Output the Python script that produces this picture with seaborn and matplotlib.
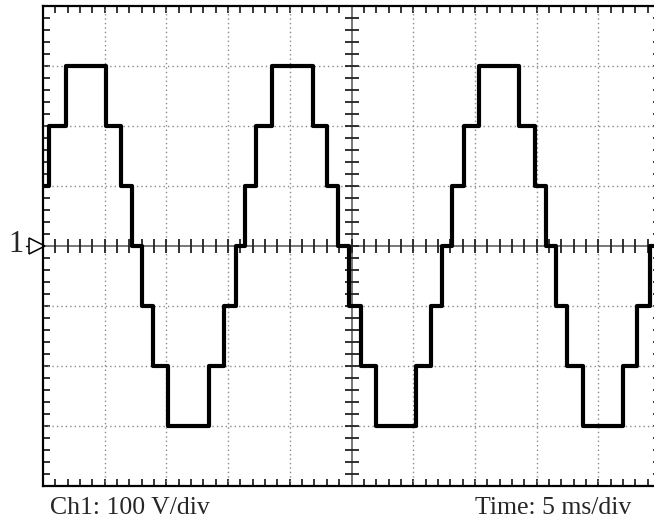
import numpy as np
import pandas as pd
import matplotlib
matplotlib.use("Agg")
import matplotlib.pyplot as plt
import seaborn as sns

# step edges (ms) and the level (V) held from each edge on
edge_ms = [0.0, 0.51, 1.84, 5.11, 6.30, 7.24, 8.05, 8.89, 10.11, 13.48,
           14.67, 15.64, 16.37, 17.26, 18.53, 21.86, 23.04, 23.93, 24.82,
           25.75, 26.96, 30.23, 31.42, 32.33, 33.18, 34.12, 35.33, 38.60,
           39.87, 40.76, 41.57, 42.49, 43.74, 46.98, 48.16, 49.19, 50.0]
level_v = [100, 200, 300, 200, 100, 0, -100, -200, -300, -200,
           -100, 0, 100, 200, 300, 200, 100, 0, -100,
           -200, -300, -200, -100, 0, 100, 200, 300, 200,
           100, 0, -100, -200, -300, -200, -100, 0, 0]

volts_per_div = 100
ms_per_div = 5

df = pd.DataFrame({"t": edge_ms, "v": level_v})

sns.set_style("white")
plt.rcParams['font.family'] = ['Liberation Serif', 'DejaVu Serif']

fig = plt.figure(figsize=(6.54, 5.2), dpi=100)
ax = fig.add_axes([43 / 654, 34 / 520, 617 / 654, 480 / 520])

# dotted division grid
for xv in np.arange(ms_per_div, 50, ms_per_div):
    if xv != 25:
        ax.axvline(xv, color="#8a8a8a", lw=1, ls=(0, (1, 2.2)), zorder=1)
for yv in np.arange(-300, 400, volts_per_div):
    if yv != 0:
        ax.axhline(yv, color="#8a8a8a", lw=1, ls=(0, (1, 2.2)), zorder=1)

# centre crosshair with sub-division ticks
ax.axhline(0, color="#777777", lw=1.4, zorder=2)
ax.axvline(25, color="#777777", lw=1.4, zorder=2)
tx = np.arange(1, 50, 1)
ty = np.arange(-380, 400, 20)
ax.plot(tx, np.zeros_like(tx), ls="none", marker="|", ms=9.5, mew=1.3,
        color="#222222", zorder=2)
ax.plot(np.full(len(ty), 25), ty, ls="none", marker="_", ms=9.5, mew=1.3,
        color="#222222", zorder=2)

sns.lineplot(data=df, x="t", y="v", ax=ax, drawstyle="steps-post",
             color="black", lw=3.0, estimator=None, sort=False, zorder=3)

ax.set_xlim(0, 50)
ax.set_ylim(-400, 400)
ax.set_xticks(np.arange(0, 51, ms_per_div))
ax.set_xticks(np.arange(0, 51, 1), minor=True)
ax.set_yticks(np.arange(-400, 401, volts_per_div))
ax.set_yticks(np.arange(-400, 401, 20), minor=True)
ax.tick_params(which="both", direction="in", length=5, width=1.1,
               color="black", top=True, right=True, bottom=True, left=True,
               labelbottom=False, labelleft=False)
ax.set_xlabel("")
ax.set_ylabel("")
for sp in ax.spines.values():
    sp.set_color("black")
    sp.set_linewidth(1.6)

# channel 1 ground marker
ax.plot([-1.35, -0.9], [0, 0], color="black", lw=1, clip_on=False)
ax.plot([-0.5], [0], marker=">", ms=11.5, mfc="white", mec="black", mew=1.1,
        clip_on=False, ls="none")
fig.text(8 / 654, 1 - 244 / 520, "1", fontsize=22, va="center", ha="left")

fig.text(50 / 654, 1 - 514 / 520, "Ch1: 100 V/div", fontsize=18.5,
         va="baseline", ha="left")
fig.text(631 / 654, 1 - 514 / 520, "Time: 5 ms/div", fontsize=18.5,
         va="baseline", ha="right")

fig.savefig("out.png", dpi=100)
